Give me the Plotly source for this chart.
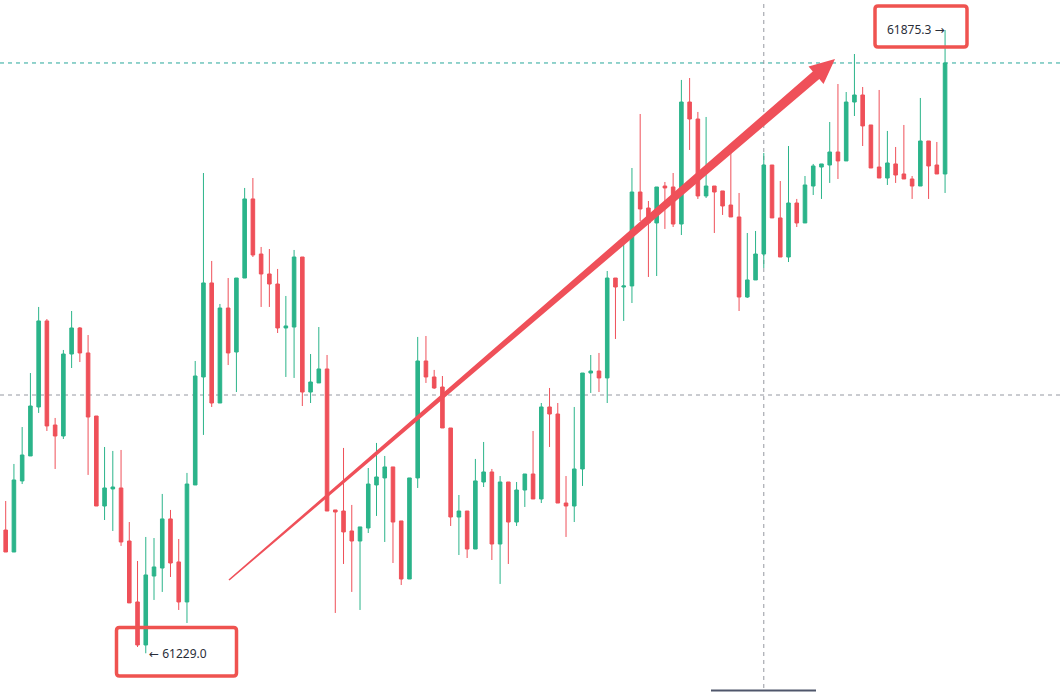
import plotly.graph_objects as go

# ---------------- data ----------------
candle_index = list(range(-1, 115))

opens = [61344.4, 61356.8, 61334.0, 61407.7, 61433.6, 61484.4, 61573.6, 61465.7, 61454.3, 61539.3,
         61566.3, 61540.4, 61475.0, 61381.7, 61399.4, 61400.4, 61345.4, 61282.2, 61237.6, 61309.1,
         61317.4, 61368.3, 61323.7, 61282.2, 61403.5, 61515.5, 61613.0, 61488.5, 61587.0, 61541.4,
         61618.1, 61700.1, 61643.0, 61622.3, 61611.9, 61566.3, 61567.3, 61639.9, 61499.9, 61509.3,
         61523.8, 61377.6, 61376.5, 61355.8, 61345.4, 61358.9, 61403.5, 61410.8, 61422.2, 61366.2,
         61306.0, 61410.8, 61532.1, 61515.5, 61505.1, 61462.6, 61370.3, 61376.5, 61337.1, 61406.6,
         61417.0, 61342.3, 61406.6, 61365.1, 61398.3, 61414.9, 61389.0, 61484.4, 61477.1, 61384.8,
         61381.7, 61420.1, 61519.6, 61521.7, 61514.5, 61618.1, 61608.8, 61609.9, 61707.3, 61690.7,
         61675.2, 61713.5, 61712.5, 61674.1, 61800.6, 61783.0, 61703.2, 61713.5, 61708.4, 61693.8,
         61681.4, 61598.4, 61616.1, 61643.0, 61735.3, 61680.4, 61639.9, 61695.9, 61675.2, 61713.5,
         61733.2, 61735.3, 61748.8, 61739.5, 61800.6, 61807.9, 61776.8, 61733.2, 61721.8, 61736.4,
         61726.0, 61720.8, 61713.5, 61760.2, 61735.3, 61726.0]

highs = [61365.1, 61386.9, 61425.3, 61463.6, 61519.6, 61588.1, 61575.6, 61473.0, 61543.5, 61583.9,
         61567.3, 61559.0, 61475.0, 61442.9, 61438.8, 61439.8, 61365.1, 61324.7, 61349.6, 61348.5,
         61394.2, 61377.6, 61347.5, 61416.0, 61532.1, 61727.0, 61635.8, 61591.2, 61618.1, 61618.1,
         61711.5, 61721.8, 61650.3, 61648.2, 61627.5, 61599.5, 61647.2, 61639.9, 61539.3, 61567.3,
         61538.3, 61377.6, 61441.9, 61382.8, 61360.0, 61421.1, 61447.1, 61433.6, 61422.2, 61366.2,
         61410.8, 61557.0, 61558.0, 61522.8, 61516.5, 61462.6, 61393.1, 61376.5, 61430.5, 61448.1,
         61420.1, 61412.8, 61406.6, 61406.6, 61414.9, 61459.5, 61488.5, 61504.1, 61488.5, 61412.8,
         61484.4, 61519.6, 61538.3, 61540.4, 61625.4, 61618.1, 61653.4, 61732.2, 61788.2, 61698.0,
         61712.5, 61717.7, 61727.0, 61823.5, 61825.5, 61790.3, 61785.1, 61713.5, 61708.4, 61747.8,
         61706.3, 61664.8, 61666.9, 61747.8, 61735.3, 61718.7, 61755.0, 61700.1, 61723.9, 61736.4,
         61736.4, 61779.9, 61819.3, 61811.0, 61850.4, 61816.2, 61776.8, 61813.1, 61770.6, 61754.0,
         61776.8, 61723.9, 61804.8, 61760.2, 61759.2, 61875.3]

lows = [61338.2, 61334.0, 61334.0, 61404.5, 61433.6, 61478.2, 61459.5, 61420.1, 61451.2, 61524.8,
        61531.0, 61413.9, 61381.7, 61367.2, 61355.8, 61340.3, 61281.2, 61235.5, 61229.0, 61284.3,
        61292.6, 61308.1, 61273.9, 61260.4, 61403.5, 61455.4, 61484.4, 61488.5, 61527.9, 61499.9,
        61618.1, 61639.9, 61588.1, 61588.1, 61561.1, 61515.5, 61514.5, 61485.4, 61488.5, 61509.3,
        61376.5, 61270.8, 61321.6, 61292.6, 61273.9, 61353.7, 61371.4, 61344.4, 61322.6, 61299.8,
        61306.0, 61400.4, 61509.3, 61503.1, 61462.6, 61361.0, 61330.9, 61327.8, 61337.1, 61401.4,
        61325.7, 61300.9, 61321.6, 61361.0, 61380.7, 61389.0, 61384.8, 61442.9, 61384.8, 61349.6,
        61365.1, 61402.5, 61498.9, 61499.9, 61488.5, 61554.9, 61573.6, 61592.2, 61677.2, 61619.2,
        61620.2, 61669.0, 61671.0, 61662.7, 61750.9, 61700.1, 61701.1, 61664.8, 61683.5, 61681.4,
        61583.9, 61597.4, 61616.1, 61628.5, 61680.4, 61639.9, 61634.7, 61671.0, 61675.2, 61704.2,
        61700.1, 61716.7, 61720.8, 61739.5, 61786.1, 61755.0, 61732.2, 61721.8, 61714.6, 61716.7,
        61720.8, 61700.1, 61713.5, 61700.1, 61726.0, 61706.3]

closes = [61356.8, 61334.0, 61408.7, 61434.6, 61485.4, 61573.6, 61464.7, 61454.3, 61539.3, 61566.3,
          61540.4, 61474.0, 61381.7, 61400.4, 61401.4, 61344.4, 61281.2, 61237.6, 61310.2, 61318.5,
          61368.3, 61322.6, 61282.2, 61404.5, 61516.5, 61613.0, 61488.5, 61587.0, 61540.4, 61618.1,
          61700.1, 61642.0, 61622.3, 61611.9, 61566.3, 61568.4, 61639.9, 61499.9, 61510.3, 61523.8,
          61376.5, 61375.5, 61354.8, 61345.4, 61360.0, 61404.5, 61411.8, 61422.2, 61365.1, 61306.0,
          61410.8, 61532.1, 61515.5, 61504.1, 61462.6, 61370.3, 61376.5, 61337.1, 61407.7, 61417.0,
          61342.3, 61406.6, 61365.1, 61398.3, 61414.9, 61389.0, 61484.4, 61477.1, 61384.8, 61381.7,
          61420.1, 61519.6, 61521.7, 61514.5, 61618.1, 61608.8, 61609.9, 61707.3, 61689.7, 61675.2,
          61712.5, 61711.5, 61674.1, 61800.6, 61783.0, 61703.2, 61713.5, 61707.3, 61692.8, 61681.4,
          61598.4, 61616.1, 61643.0, 61735.3, 61680.4, 61639.9, 61695.9, 61675.2, 61714.6, 61734.3,
          61736.4, 61748.8, 61739.5, 61800.6, 61807.9, 61775.8, 61732.2, 61721.8, 61737.4, 61724.9,
          61720.8, 61713.5, 61760.2, 61734.3, 61726.0, 61841.1]

high_label = "61875.3 →"
low_label = "← 61229.0"
crosshair_index = 92
crosshair_price = 61496.8

# ---------------- style / layout ----------------
W, H = 1062, 693
X_RANGE = [-0.69, 128.19]
Y_RANGE = [61187.8, 61906.4]
UP = "#2bb48a"
DOWN = "#ef5059"
BOX_RED = "#ef5350"
TEAL = "#26a69a"
GRAY = "#9598a1"


def px(x):
    return x / W


def py(y):
    return 1 - y / H


def rounded_box(x0, y0, x1, y1, r):
    pts = []
    pts.append(f"M {px(x0 + r)},{py(y0)}")
    pts.append(f"L {px(x1 - r)},{py(y0)}")
    pts.append(f"Q {px(x1)},{py(y0)} {px(x1)},{py(y0 + r)}")
    pts.append(f"L {px(x1)},{py(y1 - r)}")
    pts.append(f"Q {px(x1)},{py(y1)} {px(x1 - r)},{py(y1)}")
    pts.append(f"L {px(x0 + r)},{py(y1)}")
    pts.append(f"Q {px(x0)},{py(y1)} {px(x0)},{py(y1 - r)}")
    pts.append(f"L {px(x0)},{py(y0 + r)}")
    pts.append(f"Q {px(x0)},{py(y0)} {px(x0 + r)},{py(y0)}")
    pts.append("Z")
    return " ".join(pts)


def arrow_path(sx, sy, tx, ty, w0, w1, head_len, head_half):
    dx, dy = tx - sx, ty - sy
    ln = (dx * dx + dy * dy) ** 0.5
    ux, uy = dx / ln, dy / ln
    pxv, pyv = -uy, ux
    bx, by = tx - ux * head_len, ty - uy * head_len
    p = [
        (sx + pxv * w0, sy + pyv * w0),
        (bx + pxv * w1, by + pyv * w1),
        (bx + pxv * head_half, by + pyv * head_half),
        (tx, ty),
        (bx - pxv * head_half, by - pyv * head_half),
        (bx - pxv * w1, by - pyv * w1),
        (sx - pxv * w0, sy - pyv * w0),
    ]
    s = "M " + " L ".join(f"{px(a)},{py(b)}" for a, b in p) + " Z"
    return s


fig = go.Figure(
    go.Candlestick(
        x=candle_index, open=opens, high=highs, low=lows, close=closes,
        increasing=dict(line=dict(color=UP, width=1), fillcolor=UP),
        decreasing=dict(line=dict(color=DOWN, width=1), fillcolor=DOWN),
        whiskerwidth=0, hoverinfo="skip", showlegend=False,
    )
)

shapes = [
    # last price line
    dict(type="line", xref="paper", yref="y", x0=0, x1=1, y0=closes[-1], y1=closes[-1],
         line=dict(color=TEAL, width=1, dash="4px,4px"), layer="below"),
    # crosshair
    dict(type="line", xref="paper", yref="y", x0=0, x1=1, y0=crosshair_price, y1=crosshair_price,
         line=dict(color=GRAY, width=1, dash="4px,4px"), layer="below"),
    dict(type="line", xref="x", yref="paper", x0=crosshair_index, x1=crosshair_index, y0=py(688), y1=1,
         line=dict(color=GRAY, width=1, dash="4px,4px"), layer="below"),
    dict(type="line", xref="paper", yref="paper", x0=px(711), x1=px(816), y0=py(690.5), y1=py(690.5),
         line=dict(color="#4f566b", width=2)),
    # trend arrow
    dict(type="path", xref="paper", yref="paper",
         path=arrow_path(229, 580, 835, 59, 0.8, 5.0, 25, 11.5),
         fillcolor=DOWN, line=dict(width=0)),
    # label boxes
    dict(type="path", xref="paper", yref="paper", path=rounded_box(875, 6, 967, 47, 3),
         line=dict(color=BOX_RED, width=3.5)),
    dict(type="path", xref="paper", yref="paper", path=rounded_box(116.5, 627.5, 236.5, 676, 3),
         line=dict(color=BOX_RED, width=3.5)),
]

annotations = [
    dict(xref="paper", yref="paper", x=px(885), y=py(29.5), text=high_label, showarrow=False,
         xanchor="left", yanchor="middle", font=dict(size=12, color="#2a2e39")),
    dict(xref="paper", yref="paper", x=px(147), y=py(653), text=low_label, showarrow=False,
         xanchor="left", yanchor="middle", font=dict(size=12, color="#2a2e39")),
]

fig.update_layout(
    width=W, height=H, margin=dict(l=0, r=0, t=0, b=0),
    paper_bgcolor="white", plot_bgcolor="white",
    font=dict(family="Noto Sans, DejaVu Sans, sans-serif"),
    boxgap=0.38,
    shapes=shapes, annotations=annotations,
    xaxis=dict(range=X_RANGE, rangeslider=dict(visible=False), showgrid=False, zeroline=False,
               showticklabels=False, showline=False, ticks=""),
    yaxis=dict(range=Y_RANGE, showgrid=False, zeroline=False, showticklabels=False,
               showline=False, ticks=""),
    showlegend=False,
)

fig.write_html("out.html", config=dict(displayModeBar=False))
